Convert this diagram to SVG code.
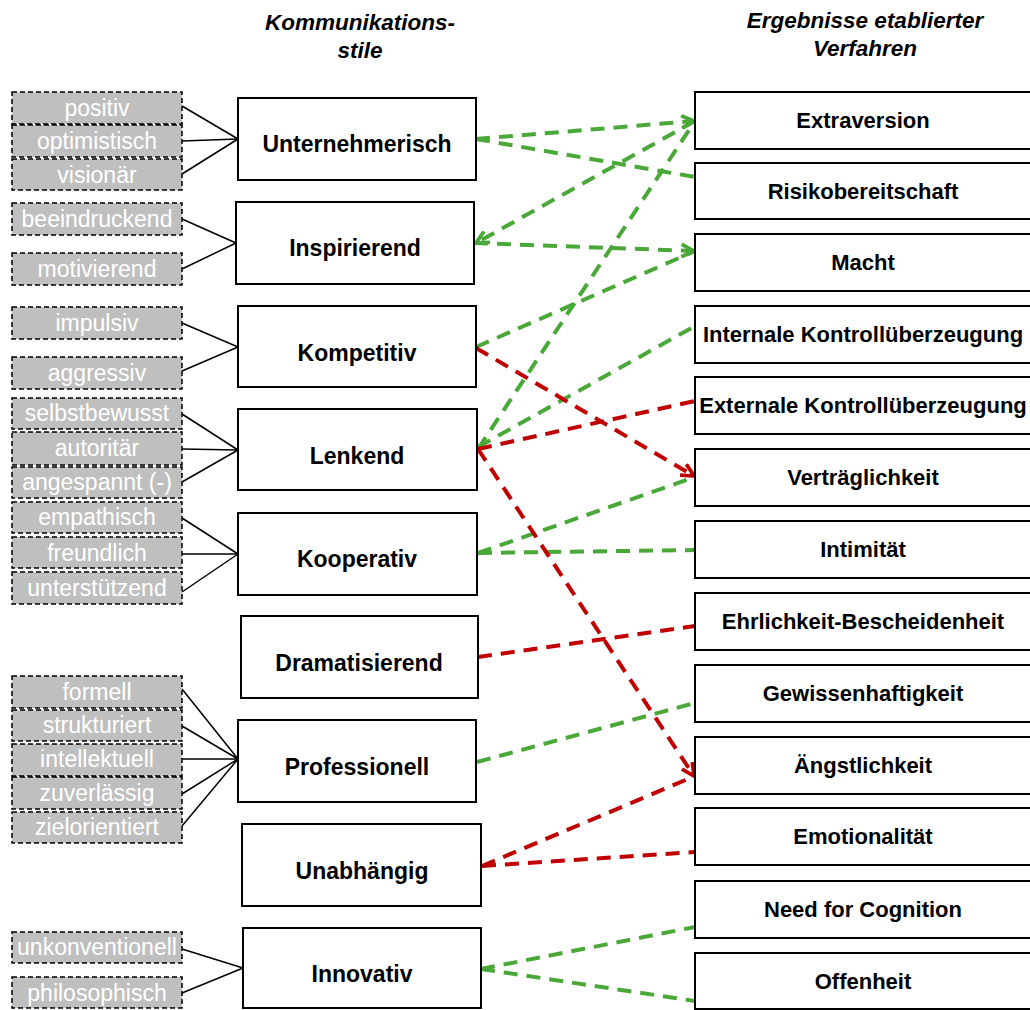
<svg xmlns="http://www.w3.org/2000/svg" width="1030" height="1010" viewBox="0 0 1030 1010">
  <style>
    .title { font-family: "Liberation Sans", Arial, sans-serif; font-size: 22.5px; font-weight: bold; font-style: italic; fill: #000; text-anchor: middle; }
    .trait rect { fill: #bfbfbf; stroke: #000; stroke-width: 1.5; stroke-dasharray: 5 3; }
    .trait text { font-family: "Liberation Sans", Arial, sans-serif; font-size: 23px; fill: #fff; text-anchor: middle; }
    .style rect, .result rect { fill: #fff; stroke: #000; stroke-width: 2; }
    .style text { font-family: "Liberation Sans", Arial, sans-serif; font-size: 23px; font-weight: bold; fill: #000; text-anchor: middle; }
    .result text { font-family: "Liberation Sans", Arial, sans-serif; font-size: 22px; font-weight: bold; fill: #000; text-anchor: middle; }
    .link { stroke: #000; stroke-width: 1.5; fill: none; }
    .pos { stroke: #4aa838; stroke-width: 4; stroke-dasharray: 14 9; fill: none; }
    .neg { stroke: #c00000; stroke-width: 4; stroke-dasharray: 14 9; fill: none; }
  </style>
  <defs>
    <marker id="arrowGreen" viewBox="0 0 12 12" refX="11" refY="6" markerWidth="15" markerHeight="15" markerUnits="userSpaceOnUse" orient="auto">
      <path d="M1,1 L11,6 L1,11" fill="none" stroke="#4aa838" stroke-width="3" stroke-dasharray="none"/>
    </marker>
    <marker id="arrowRed" viewBox="0 0 12 12" refX="11" refY="6" markerWidth="15" markerHeight="15" markerUnits="userSpaceOnUse" orient="auto">
      <path d="M1,1 L11,6 L1,11" fill="none" stroke="#c00000" stroke-width="3" stroke-dasharray="none"/>
    </marker>
  </defs>

  <!-- column headings -->
  <text class="title" x="360" y="30">Kommunikations-</text>
  <text class="title" x="360" y="58">stile</text>
  <text class="title" x="865" y="28">Ergebnisse etablierter</text>
  <text class="title" x="865" y="56">Verfahren</text>

  <!-- trait to style links -->
  <g id="trait-links">
    <line class="link" x1="182" y1="106" x2="238" y2="139"/>
    <line class="link" x1="182" y1="141" x2="238" y2="139"/>
    <line class="link" x1="182" y1="174" x2="238" y2="139"/>
    <line class="link" x1="182" y1="219" x2="236" y2="243"/>
    <line class="link" x1="182" y1="269" x2="236" y2="243"/>
    <line class="link" x1="182" y1="323" x2="238" y2="347"/>
    <line class="link" x1="182" y1="371" x2="238" y2="347"/>
    <line class="link" x1="182" y1="414" x2="238" y2="450"/>
    <line class="link" x1="182" y1="449" x2="238" y2="450"/>
    <line class="link" x1="182" y1="482" x2="238" y2="450"/>
    <line class="link" x1="182" y1="518" x2="238" y2="554"/>
    <line class="link" x1="182" y1="554" x2="238" y2="554"/>
    <line class="link" x1="182" y1="592" x2="238" y2="554"/>
    <line class="link" x1="182" y1="689" x2="238" y2="759"/>
    <line class="link" x1="182" y1="726" x2="238" y2="759"/>
    <line class="link" x1="182" y1="759" x2="238" y2="759"/>
    <line class="link" x1="182" y1="794" x2="238" y2="759"/>
    <line class="link" x1="182" y1="826" x2="238" y2="759"/>
    <line class="link" x1="182" y1="949" x2="243" y2="968"/>
    <line class="link" x1="182" y1="993" x2="243" y2="968"/>
  </g>

  <!-- style to result connectors -->
  <g id="connectors">
    <line class="pos" x1="476" y1="139" x2="694" y2="121" marker-end="url(#arrowGreen)"/>
    <line class="pos" x1="476" y1="139" x2="695" y2="177"/>
    <line class="pos" x1="695" y1="121" x2="476" y2="243" marker-end="url(#arrowGreen)"/>
    <line class="pos" x1="474" y1="243" x2="694" y2="251" marker-end="url(#arrowGreen)"/>
    <line class="pos" x1="476" y1="347" x2="695" y2="251"/>
    <line class="pos" x1="478" y1="449" x2="695" y2="121"/>
    <line class="pos" x1="478" y1="447" x2="695" y2="326"/>
    <line class="pos" x1="478" y1="553" x2="695" y2="477"/>
    <line class="pos" x1="478" y1="553" x2="695" y2="550"/>
    <line class="pos" x1="477" y1="762" x2="695" y2="703"/>
    <line class="pos" x1="481" y1="969" x2="695" y2="927"/>
    <line class="pos" x1="481" y1="969" x2="695" y2="1001"/>
    <line class="neg" x1="476" y1="348" x2="694" y2="476" marker-end="url(#arrowRed)"/>
    <line class="neg" x1="478" y1="449" x2="695" y2="401"/>
    <line class="neg" x1="478" y1="449" x2="694" y2="776" marker-end="url(#arrowRed)"/>
    <line class="neg" x1="478" y1="657" x2="695" y2="626"/>
    <line class="neg" x1="482" y1="866" x2="695" y2="776"/>
    <line class="neg" x1="482" y1="866" x2="695" y2="852"/>
  </g>

  <!-- descriptive traits -->
  <g id="trait-positiv" class="trait"><rect x="12" y="92" width="170" height="32"/><text x="97" y="116">positiv</text></g>
  <g id="trait-optimistisch" class="trait"><rect x="12" y="125" width="170" height="32"/><text x="97" y="149">optimistisch</text></g>
  <g id="trait-visionaer" class="trait"><rect x="12" y="159" width="170" height="31"/><text x="97" y="183">visionär</text></g>
  <g id="trait-beeindruckend" class="trait"><rect x="12" y="203" width="170" height="32"/><text x="97" y="227">beeindruckend</text></g>
  <g id="trait-motivierend" class="trait"><rect x="12" y="253" width="170" height="32"/><text x="97" y="277">motivierend</text></g>
  <g id="trait-impulsiv" class="trait"><rect x="12" y="307" width="170" height="32"/><text x="97" y="331">impulsiv</text></g>
  <g id="trait-aggressiv" class="trait"><rect x="12" y="357" width="170" height="32"/><text x="97" y="381">aggressiv</text></g>
  <g id="trait-selbstbewusst" class="trait"><rect x="12" y="398" width="170" height="31"/><text x="97" y="421">selbstbewusst</text></g>
  <g id="trait-autoritaer" class="trait"><rect x="12" y="432" width="170" height="33"/><text x="97" y="456">autoritär</text></g>
  <g id="trait-angespannt" class="trait"><rect x="12" y="467" width="170" height="31"/><text x="97" y="490">angespannt (-)</text></g>
  <g id="trait-empathisch" class="trait"><rect x="12" y="502" width="170" height="31"/><text x="97" y="525">empathisch</text></g>
  <g id="trait-freundlich" class="trait"><rect x="12" y="537" width="170" height="31"/><text x="97" y="561">freundlich</text></g>
  <g id="trait-unterstuetzend" class="trait"><rect x="12" y="572" width="170" height="32"/><text x="97" y="596">unterstützend</text></g>
  <g id="trait-formell" class="trait"><rect x="12" y="676" width="170" height="32"/><text x="97" y="700">formell</text></g>
  <g id="trait-strukturiert" class="trait"><rect x="12" y="710" width="170" height="31"/><text x="97" y="733">strukturiert</text></g>
  <g id="trait-intellektuell" class="trait"><rect x="12" y="744" width="170" height="32"/><text x="97" y="767">intellektuell</text></g>
  <g id="trait-zuverlaessig" class="trait"><rect x="12" y="777" width="170" height="32"/><text x="97" y="801">zuverlässig</text></g>
  <g id="trait-zielorientiert" class="trait"><rect x="12" y="812" width="170" height="31"/><text x="97" y="835">zielorientiert</text></g>
  <g id="trait-unkonventionell" class="trait"><rect x="12" y="932" width="170" height="31"/><text x="97" y="955">unkonventionell</text></g>
  <g id="trait-philosophisch" class="trait"><rect x="12" y="977" width="170" height="31"/><text x="97" y="1001">philosophisch</text></g>

  <!-- communication styles -->
  <g id="style-unternehmerisch" class="style"><rect x="238" y="98" width="238" height="82"/><text x="357" y="152">Unternehmerisch</text></g>
  <g id="style-inspirierend" class="style"><rect x="236" y="202" width="238" height="82"/><text x="355" y="256">Inspirierend</text></g>
  <g id="style-kompetitiv" class="style"><rect x="238" y="306" width="238" height="81"/><text x="357" y="361">Kompetitiv</text></g>
  <g id="style-lenkend" class="style"><rect x="238" y="409" width="239" height="81"/><text x="357" y="464">Lenkend</text></g>
  <g id="style-kooperativ" class="style"><rect x="238" y="513" width="239" height="82"/><text x="357" y="567">Kooperativ</text></g>
  <g id="style-dramatisierend" class="style"><rect x="241" y="616" width="237" height="82"/><text x="359" y="671">Dramatisierend</text></g>
  <g id="style-professionell" class="style"><rect x="238" y="720" width="238" height="82"/><text x="357" y="775">Professionell</text></g>
  <g id="style-unabhaengig" class="style"><rect x="242" y="824" width="239" height="82"/><text x="362" y="879">Unabhängig</text></g>
  <g id="style-innovativ" class="style"><rect x="243" y="928" width="238" height="80"/><text x="362" y="982">Innovativ</text></g>

  <!-- results of established procedures -->
  <g id="result-extraversion" class="result"><rect x="695" y="92" width="340" height="57"/><text x="863" y="128">Extraversion</text></g>
  <g id="result-risiko" class="result"><rect x="695" y="163" width="340" height="56"/><text x="863" y="199">Risikobereitschaft</text></g>
  <g id="result-macht" class="result"><rect x="695" y="234" width="340" height="57"/><text x="863" y="270">Macht</text></g>
  <g id="result-internal" class="result"><rect x="695" y="306" width="340" height="57"/><text x="863" y="342">Internale Kontrollüberzeugung</text></g>
  <g id="result-external" class="result"><rect x="695" y="377" width="340" height="57"/><text x="863" y="413">Externale Kontrollüberzeugung</text></g>
  <g id="result-vertraeglichkeit" class="result"><rect x="695" y="449" width="340" height="57"/><text x="863" y="485">Verträglichkeit</text></g>
  <g id="result-intimitaet" class="result"><rect x="695" y="521" width="340" height="57"/><text x="863" y="557">Intimität</text></g>
  <g id="result-ehrlichkeit" class="result"><rect x="695" y="593" width="340" height="57"/><text x="863" y="629">Ehrlichkeit-Bescheidenheit</text></g>
  <g id="result-gewissenhaftigkeit" class="result"><rect x="695" y="665" width="340" height="57"/><text x="863" y="701">Gewissenhaftigkeit</text></g>
  <g id="result-aengstlichkeit" class="result"><rect x="695" y="737" width="340" height="57"/><text x="863" y="773">Ängstlichkeit</text></g>
  <g id="result-emotionalitaet" class="result"><rect x="695" y="808" width="340" height="57"/><text x="863" y="844">Emotionalität</text></g>
  <g id="result-nfc" class="result"><rect x="695" y="881" width="340" height="57"/><text x="863" y="917">Need for Cognition</text></g>
  <g id="result-offenheit" class="result"><rect x="695" y="953" width="340" height="56"/><text x="863" y="989">Offenheit</text></g>
</svg>
